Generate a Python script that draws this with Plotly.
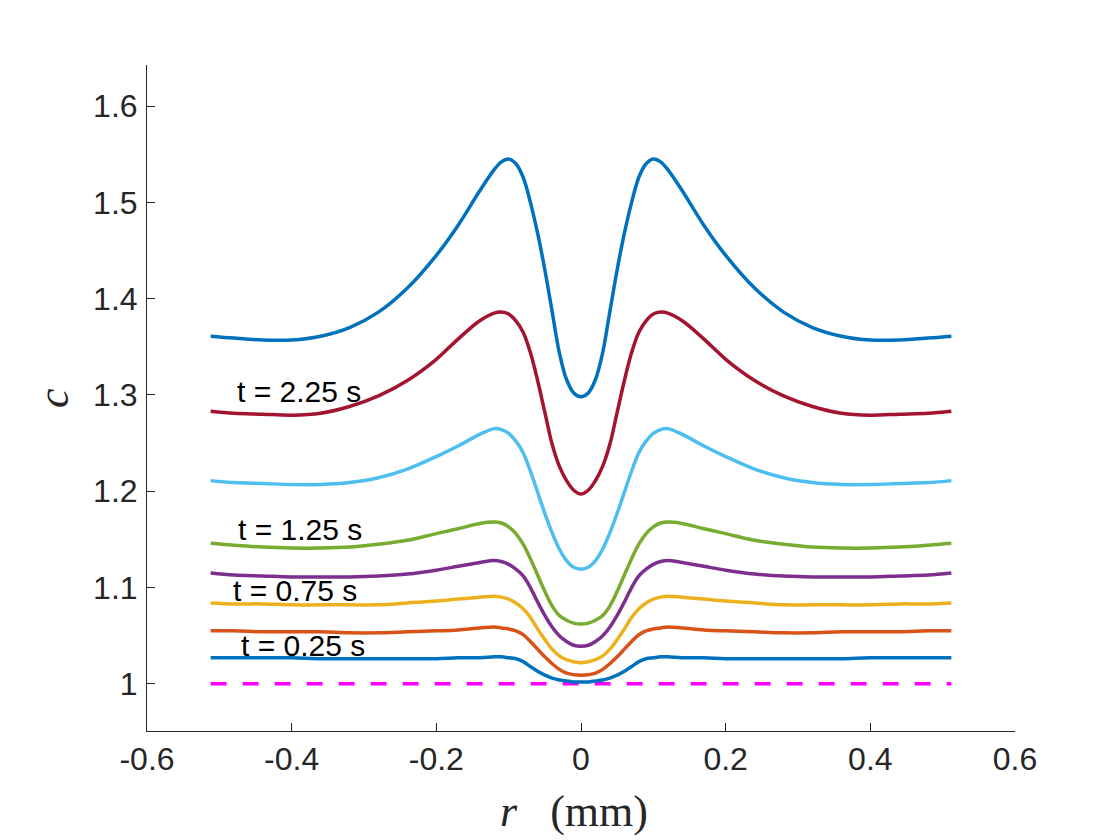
import plotly.graph_objects as go

# radial positions (mm)
r = [-0.512, -0.48, -0.44, -0.40, -0.36, -0.32, -0.28, -0.24, -0.20, -0.17, -0.14, -0.12,
     -0.11, -0.10, -0.09, -0.08, -0.07, -0.06, -0.05, -0.04, -0.03, -0.02, -0.01, 0.0,
     0.01, 0.02, 0.03, 0.04, 0.05, 0.06, 0.07, 0.08, 0.09, 0.10, 0.11,
     0.12, 0.14, 0.17, 0.20, 0.24, 0.28, 0.32, 0.36, 0.40, 0.44, 0.48, 0.512]

c_t025 = [1.027, 1.027, 1.027, 1.027, 1.026, 1.026, 1.026, 1.026, 1.026, 1.027, 1.027, 1.028,
          1.028, 1.027, 1.026, 1.023, 1.018, 1.013, 1.009, 1.006, 1.004, 1.003, 1.002, 1.002,
          1.002, 1.003, 1.004, 1.006, 1.009, 1.013, 1.018, 1.023, 1.026, 1.027, 1.028,
          1.028, 1.027, 1.027, 1.026, 1.026, 1.026, 1.026, 1.026, 1.027, 1.027, 1.027, 1.027]
c_t050 = [1.055, 1.055, 1.054, 1.054, 1.054, 1.053, 1.053, 1.054, 1.055, 1.056, 1.058, 1.059,
          1.058, 1.057, 1.055, 1.051, 1.044, 1.036, 1.028, 1.021, 1.015, 1.011, 1.0095, 1.009,
          1.0095, 1.011, 1.015, 1.021, 1.028, 1.036, 1.044, 1.051, 1.055, 1.057, 1.058,
          1.059, 1.058, 1.056, 1.055, 1.054, 1.053, 1.053, 1.054, 1.054, 1.054, 1.055, 1.055]
c_t075 = [1.084, 1.083, 1.083, 1.082, 1.082, 1.082, 1.082, 1.084, 1.086, 1.088, 1.090, 1.091,
          1.090, 1.088, 1.084, 1.078, 1.069, 1.057, 1.046, 1.036, 1.029, 1.025, 1.023, 1.022,
          1.023, 1.025, 1.029, 1.036, 1.046, 1.057, 1.069, 1.078, 1.084, 1.088, 1.090,
          1.091, 1.090, 1.088, 1.086, 1.084, 1.082, 1.082, 1.082, 1.082, 1.083, 1.083, 1.084]
c_t100 = [1.115, 1.113, 1.112, 1.111, 1.111, 1.111, 1.112, 1.114, 1.118, 1.122, 1.126, 1.128,
          1.127, 1.124, 1.119, 1.112, 1.100, 1.085, 1.071, 1.059, 1.050, 1.044, 1.040, 1.039,
          1.040, 1.044, 1.050, 1.059, 1.071, 1.085, 1.100, 1.112, 1.119, 1.124, 1.127,
          1.128, 1.126, 1.122, 1.118, 1.114, 1.112, 1.111, 1.111, 1.111, 1.112, 1.113, 1.115]
c_t125 = [1.146, 1.144, 1.142, 1.141, 1.141, 1.142, 1.145, 1.149, 1.156, 1.161, 1.1665, 1.168,
          1.167, 1.163, 1.156, 1.145, 1.130, 1.113, 1.096, 1.081, 1.071, 1.066, 1.063, 1.062,
          1.063, 1.066, 1.071, 1.081, 1.096, 1.113, 1.130, 1.145, 1.156, 1.163, 1.167,
          1.168, 1.1665, 1.161, 1.156, 1.149, 1.145, 1.142, 1.141, 1.141, 1.142, 1.144, 1.146]
c_t175 = [1.211, 1.209, 1.208, 1.207, 1.207, 1.209, 1.214, 1.223, 1.236, 1.247, 1.259, 1.265,
          1.264, 1.260, 1.252, 1.240, 1.221, 1.199, 1.177, 1.157, 1.140, 1.128, 1.121, 1.119,
          1.121, 1.128, 1.140, 1.157, 1.177, 1.199, 1.221, 1.240, 1.252, 1.260, 1.264,
          1.265, 1.259, 1.247, 1.236, 1.223, 1.214, 1.209, 1.207, 1.207, 1.208, 1.209, 1.211]
c_t225 = [1.283, 1.281, 1.280, 1.279, 1.281, 1.288, 1.299, 1.315, 1.337, 1.358, 1.377, 1.385,
          1.386, 1.384, 1.377, 1.365, 1.344, 1.315, 1.282, 1.249, 1.226, 1.211, 1.201, 1.197,
          1.201, 1.211, 1.226, 1.249, 1.282, 1.315, 1.344, 1.365, 1.377, 1.384, 1.386,
          1.385, 1.377, 1.358, 1.337, 1.315, 1.299, 1.288, 1.281, 1.279, 1.280, 1.281, 1.283]
c_t275 = [1.361, 1.359, 1.357, 1.357, 1.361, 1.370, 1.386, 1.411, 1.445, 1.476, 1.512, 1.534,
          1.542, 1.545, 1.540, 1.526, 1.500, 1.468, 1.430, 1.387, 1.344, 1.316, 1.302, 1.298,
          1.302, 1.316, 1.344, 1.387, 1.430, 1.468, 1.500, 1.526, 1.540, 1.545, 1.542,
          1.534, 1.512, 1.476, 1.445, 1.411, 1.386, 1.370, 1.361, 1.357, 1.357, 1.359, 1.361]

baseline_r = [-0.512, 0.512]
baseline_c = [1.0, 1.0]

series = [c_t025, c_t050, c_t075, c_t100, c_t125, c_t175, c_t225, c_t275]
colors = ["#0072BD", "#D95319", "#EDB120", "#7E2F8E", "#77AC30", "#4DBEEE", "#A2142F", "#0072BD"]

label_texts = ["t = 2.25 s", "t = 1.25 s", "t = 0.75 s", "t = 0.25 s"]
label_r = [-0.390, -0.388, -0.396, -0.385]
label_c = [1.304, 1.160, 1.0966, 1.040]

xtick_vals = [-0.6, -0.4, -0.2, 0, 0.2, 0.4, 0.6]
xtick_text = ["-0.6", "-0.4", "-0.2", "0", "0.2", "0.4", "0.6"]
ytick_vals = [1.0, 1.1, 1.2, 1.3, 1.4, 1.5, 1.6]
ytick_text = ["1", "1.1", "1.2", "1.3", "1.4", "1.5", "1.6"]

fig = go.Figure()
fig.add_trace(go.Scatter(x=baseline_r, y=baseline_c, mode="lines",
                         line=dict(color="#FF00FF", width=3.5, dash="16px,16px"), showlegend=False))
for vals, col in zip(series, colors):
    fig.add_trace(go.Scatter(x=r, y=vals, mode="lines",
                             line=dict(color=col, width=3.5, shape="spline", smoothing=1.0),
                             showlegend=False))

for t, xr, yc in zip(label_texts, label_r, label_c):
    fig.add_annotation(x=xr, y=yc, xref="x", yref="y", text=t, showarrow=False,
                       xanchor="center", yanchor="middle",
                       font=dict(family="Liberation Sans, Arial, sans-serif", size=30, color="#000000"))

axis_font = dict(family="Liberation Sans, Arial, sans-serif", size=32, color="#262626")

fig.update_xaxes(range=[-0.6, 0.6], tickmode="array", tickvals=xtick_vals, ticktext=xtick_text,
                 ticks="inside", ticklen=8, tickwidth=1, tickcolor="#262626",
                 showline=True, linecolor="#262626", linewidth=1, mirror=False,
                 showgrid=False, zeroline=False, tickfont=axis_font, ticklabelstandoff=0)
fig.update_yaxes(range=[0.951, 1.6426], tickmode="array", tickvals=ytick_vals, ticktext=ytick_text,
                 ticks="inside", ticklen=8, tickwidth=1, tickcolor="#262626",
                 showline=True, linecolor="#262626", linewidth=1, mirror=False,
                 showgrid=False, zeroline=False, tickfont=axis_font, ticklabelstandoff=2)

# axis labels
fig.add_annotation(xref="paper", yref="paper", x=0.5, y=0, xshift=-7, yshift=-80, showarrow=False,
                   xanchor="center", yanchor="middle",
                   text="<i>r</i>\u00a0\u00a0\u00a0(mm)",
                   font=dict(family="Liberation Serif, Times New Roman, serif", size=44, color="#262626"))
fig.add_annotation(xref="paper", yref="paper", x=0, y=0.5, xshift=-94, showarrow=False,
                   xanchor="center", yanchor="middle", textangle=-90,
                   text="<i>c</i>",
                   font=dict(family="Liberation Serif, Times New Roman, serif", size=44, color="#262626"))

# page body has an 8px margin, so the margins are shifted to keep the plot area at the reference position
fig.update_layout(width=1120, height=840, paper_bgcolor="white", plot_bgcolor="white",
                  margin=dict(l=139, r=113, t=57, b=117, pad=0), showlegend=False)

fig.write_html("out.html")
